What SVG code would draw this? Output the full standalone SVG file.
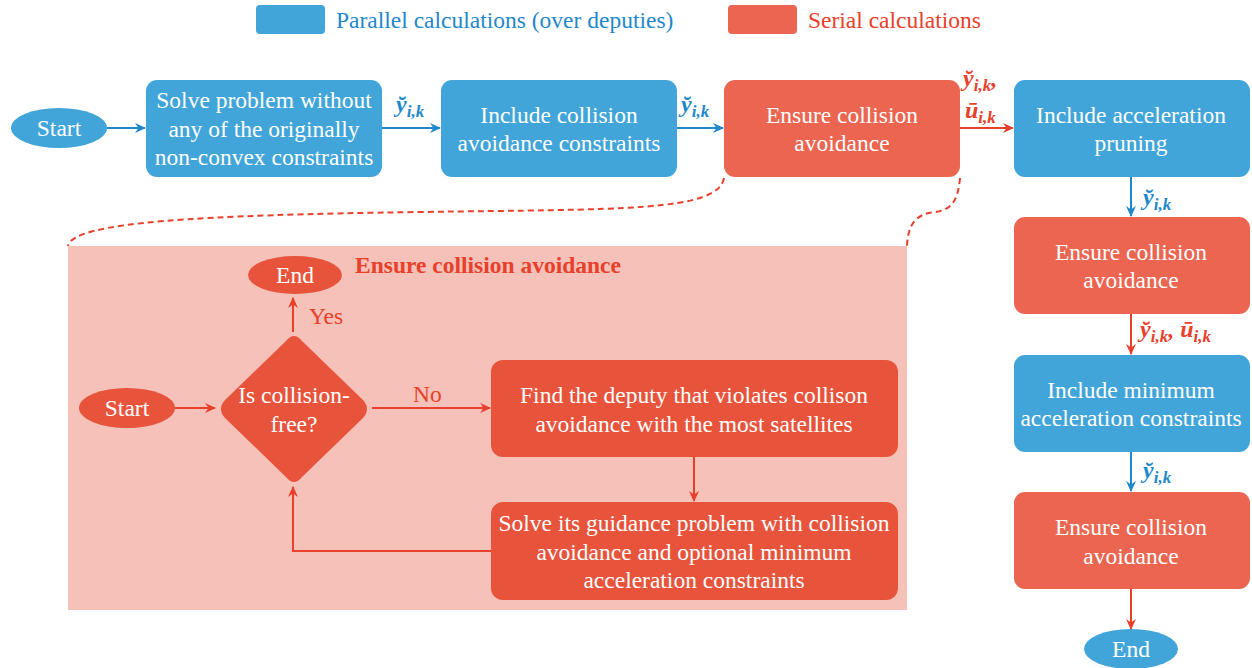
<svg xmlns="http://www.w3.org/2000/svg" width="1252" height="668" viewBox="0 0 1252 668">
<defs>
<marker id="ab" viewBox="0 0 10 10" refX="9" refY="5" markerWidth="11" markerHeight="11" orient="auto" markerUnits="userSpaceOnUse">
<path d="M0,0.5 L10,5 L0,9.5 L3,5 z" fill="#1f88cb"/>
</marker>
<marker id="ar" viewBox="0 0 10 10" refX="9" refY="5" markerWidth="11" markerHeight="11" orient="auto" markerUnits="userSpaceOnUse">
<path d="M0,0.5 L10,5 L0,9.5 L3,5 z" fill="#e8402a"/>
</marker>
</defs>
<rect width="1252" height="668" fill="#fff"/>

<g id="legend" font-size="23.5">
<rect x="256" y="5" width="69" height="29" rx="4" fill="#41a5d9"/>
<text x="336" y="28" fill="#1f88cb" font-family="Liberation Serif">Parallel calculations (over deputies)</text>
<rect x="728" y="5" width="69" height="29" rx="4" fill="#eb6550"/>
<text x="808" y="28" fill="#e8402a" font-family="Liberation Serif">Serial calculations</text>
</g>

<g id="detail-bg">
<rect x="68" y="246" width="839" height="364" fill="#f5c1b8"/>
<text x="355" y="273" fill="#e8402a" font-size="23.5" font-weight="bold" font-family="Liberation Serif">Ensure collision avoidance</text>
</g>

<g id="connectors" fill="none" stroke-width="2">
<path stroke="#e8402a" stroke-dasharray="6 4" d="M724,178 C718,212 620,209 420,212 C200,215 72,222 68,246"/>
<path stroke="#e8402a" stroke-dasharray="6 4" d="M960,178 C958,200 952,210 935,212 C915,214 908,225 907,246"/>
<line stroke="#1f88cb" x1="107" y1="128" x2="145" y2="128" marker-end="url(#ab)"/>
<line stroke="#1f88cb" x1="382" y1="128" x2="440" y2="128" marker-end="url(#ab)"/>
<line stroke="#1f88cb" x1="677" y1="128" x2="723" y2="128" marker-end="url(#ab)"/>
<line stroke="#e8402a" x1="960" y1="128" x2="1013" y2="128" marker-end="url(#ar)"/>
<line stroke="#1f88cb" x1="1131" y1="177" x2="1131" y2="216" marker-end="url(#ab)"/>
<line stroke="#e8402a" x1="1131" y1="314" x2="1131" y2="354" marker-end="url(#ar)"/>
<line stroke="#1f88cb" x1="1131" y1="452" x2="1131" y2="491" marker-end="url(#ab)"/>
<line stroke="#e8402a" x1="1131" y1="589" x2="1131" y2="629" marker-end="url(#ar)"/>
<line stroke="#e8402a" x1="175" y1="408" x2="215" y2="408" marker-end="url(#ar)"/>
<line stroke="#e8402a" x1="293" y1="332" x2="293" y2="298" marker-end="url(#ar)"/>
<line stroke="#e8402a" x1="372" y1="408" x2="490" y2="408" marker-end="url(#ar)"/>
<line stroke="#e8402a" x1="694" y1="457" x2="694" y2="501" marker-end="url(#ar)"/>
<polyline stroke="#e8402a" points="491,551 293,551 293,487" marker-end="url(#ar)"/>
</g>
<g id="connector-labels" font-style="italic" font-weight="bold" font-size="24">
<text x="396" y="112" fill="#1f88cb" font-family="Liberation Serif">y&#x306;<tspan font-size="17" dy="5">i,k</tspan></text>
<text x="681" y="112" fill="#1f88cb" font-family="Liberation Serif">y&#x306;<tspan font-size="17" dy="5">i,k</tspan></text>
<text x="963" y="86" fill="#e8402a" font-family="Liberation Serif">y&#x306;<tspan font-size="17" dy="5">i,k</tspan><tspan dy="-5">,</tspan></text>
<text x="965" y="118" fill="#e8402a" font-family="Liberation Serif">ū<tspan font-size="17" dy="5">i,k</tspan></text>
<text x="1143" y="205" fill="#1f88cb" font-family="Liberation Serif">y&#x306;<tspan font-size="17" dy="5">i,k</tspan></text>
<text x="1140" y="337" fill="#e8402a" font-family="Liberation Serif">y&#x306;<tspan font-size="17" dy="5">i,k</tspan><tspan dy="-5">, ū</tspan><tspan font-size="17" dy="5">i,k</tspan></text>
<text x="1143" y="478" fill="#1f88cb" font-family="Liberation Serif">y&#x306;<tspan font-size="17" dy="5">i,k</tspan></text>
<text x="309" y="324" fill="#e8402a" font-style="normal" font-weight="normal" font-size="23.5" font-family="Liberation Serif">Yes</text>
<text x="413" y="402" fill="#e8402a" font-style="normal" font-weight="normal" font-size="23.5" font-family="Liberation Serif">No</text>
</g>

<g id="start">
<ellipse cx="59" cy="128" rx="48" ry="20" fill="#41a5d9"/>
<text x="59" y="136" fill="#fff" font-size="23.5" text-anchor="middle" font-family="Liberation Serif">Start</text>
</g>
<g id="solve-relaxed" fill="#fff" font-size="23.5" text-anchor="middle">
<rect x="146" y="80" width="236" height="97" rx="11" fill="#41a5d9"/>
<text x="264" y="108" font-family="Liberation Serif">Solve problem without</text>
<text x="264" y="137" font-family="Liberation Serif">any of the originally</text>
<text x="264" y="165" font-family="Liberation Serif">non-convex constraints</text>
</g>
<g id="include-collision" fill="#fff" font-size="23.5" text-anchor="middle">
<rect x="441" y="80" width="236" height="97" rx="11" fill="#41a5d9"/>
<text x="559" y="123" font-family="Liberation Serif">Include collision</text>
<text x="559" y="151" font-family="Liberation Serif">avoidance constraints</text>
</g>
<g id="ensure1" fill="#fff" font-size="23.5" text-anchor="middle">
<rect x="724" y="80" width="236" height="97" rx="11" fill="#eb6550"/>
<text x="842" y="123" font-family="Liberation Serif">Ensure collision</text>
<text x="842" y="151" font-family="Liberation Serif">avoidance</text>
</g>
<g id="include-pruning" fill="#fff" font-size="23.5" text-anchor="middle">
<rect x="1014" y="80" width="236" height="97" rx="11" fill="#41a5d9"/>
<text x="1131" y="123" font-family="Liberation Serif">Include acceleration</text>
<text x="1131" y="151" font-family="Liberation Serif">pruning</text>
</g>
<g id="ensure2" fill="#fff" font-size="23.5" text-anchor="middle">
<rect x="1014" y="217" width="236" height="97" rx="11" fill="#eb6550"/>
<text x="1131" y="260" font-family="Liberation Serif">Ensure collision</text>
<text x="1131" y="288" font-family="Liberation Serif">avoidance</text>
</g>
<g id="include-min" fill="#fff" font-size="23.5" text-anchor="middle">
<rect x="1014" y="355" width="236" height="97" rx="11" fill="#41a5d9"/>
<text x="1131" y="398" font-family="Liberation Serif">Include minimum</text>
<text x="1131" y="426" font-family="Liberation Serif">acceleration constraints</text>
</g>
<g id="ensure3" fill="#fff" font-size="23.5" text-anchor="middle">
<rect x="1014" y="492" width="236" height="97" rx="11" fill="#eb6550"/>
<text x="1131" y="535" font-family="Liberation Serif">Ensure collision</text>
<text x="1131" y="564" font-family="Liberation Serif">avoidance</text>
</g>
<g id="end" fill="#fff" font-size="23.5" text-anchor="middle">
<ellipse cx="1131" cy="649" rx="47" ry="20" fill="#41a5d9"/>
<text x="1131" y="657" font-family="Liberation Serif">End</text>
</g>

<g id="inner-start" fill="#fff" font-size="23.5" text-anchor="middle">
<ellipse cx="127" cy="408" rx="48" ry="20" fill="#e8533c"/>
<text x="127" y="416" font-family="Liberation Serif">Start</text>
</g>
<g id="inner-end" fill="#fff" font-size="23.5" text-anchor="middle">
<ellipse cx="295" cy="275" rx="47" ry="19" fill="#e8533c"/>
<text x="295" y="283" font-family="Liberation Serif">End</text>
</g>
<g id="decision" fill="#fff" font-size="23.5" text-anchor="middle">
<path d="M286,341 Q294,331 302,341 L363,400 Q371,409 363,418 L302,477 Q294,487 286,477 L225,418 Q217,409 225,400 Z" fill="#e8533c"/>
<text x="294" y="403" font-family="Liberation Serif">Is collision-</text>
<text x="294" y="432" font-family="Liberation Serif">free?</text>
</g>
<g id="find-deputy" fill="#fff" font-size="23.5" text-anchor="middle">
<rect x="491" y="360" width="407" height="97" rx="12" fill="#e8533c"/>
<text x="694" y="403" font-family="Liberation Serif">Find the deputy that violates collison</text>
<text x="694" y="432" font-family="Liberation Serif">avoidance with the most satellites</text>
</g>
<g id="solve-guidance" fill="#fff" font-size="23.5" text-anchor="middle">
<rect x="491" y="502" width="407" height="98" rx="12" fill="#e8533c"/>
<text x="694" y="531" font-family="Liberation Serif">Solve its guidance problem with collision</text>
<text x="694" y="560" font-family="Liberation Serif">avoidance and optional minimum</text>
<text x="694" y="588" font-family="Liberation Serif">acceleration constraints</text>
</g>
</svg>
